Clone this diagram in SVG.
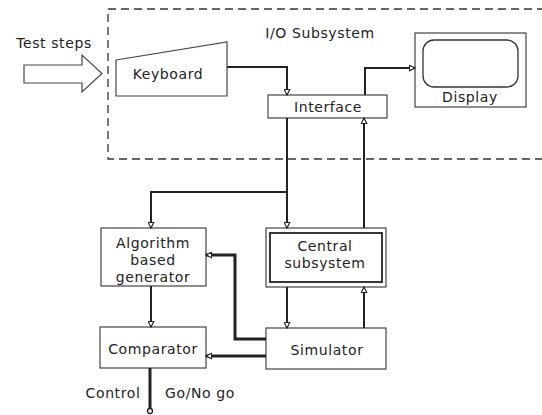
<svg xmlns="http://www.w3.org/2000/svg" width="542" height="415" viewBox="0 0 542 415">
  <style>
    .box { fill: #fff; stroke: #444; stroke-width: 1.2; }
    .txt { font-family: "DejaVu Sans", "Liberation Sans", sans-serif; font-size: 14px; letter-spacing: 0.6px; fill: #222; text-anchor: middle; }
    .wire { fill: none; stroke: #222; stroke-width: 2; }
    .wire-bold { fill: none; stroke: #222; stroke-width: 3; }
    .frame { fill: none; stroke: #333; stroke-width: 1.3; stroke-dasharray: 8 5; }
  </style>
  <defs>
    <marker id="tri" viewBox="0 0 10 10" refX="9" refY="5" markerWidth="7" markerHeight="7" markerUnits="userSpaceOnUse" orient="auto">
      <path d="M1,1 L9,5 L1,9 Z" fill="#fff" stroke="#222" stroke-width="1.6"/>
    </marker>
  </defs>
  <rect width="542" height="415" fill="#fff"/>

  <!-- I/O subsystem frame -->
  <g id="io-subsystem">
    <path class="frame" d="M545,9 H108 V159 H545"/>
    <text class="txt" x="320" y="38">I/O Subsystem</text>
  </g>

  <!-- external input -->
  <g id="test-steps">
    <text class="txt" x="54" y="48">Test steps</text>
    <path d="M24,65 H82 V55 L102,73.5 L82,92 V83 H24 Z" fill="#fff" stroke="#444" stroke-width="1.2"/>
  </g>

  <g id="keyboard">
    <path class="box" d="M116,60 L227,42 V96 H116 Z"/>
    <text class="txt" x="168" y="79">Keyboard</text>
  </g>

  <g id="interface">
    <rect class="box" x="268" y="95" width="119" height="23"/>
    <text class="txt" x="328" y="112">Interface</text>
  </g>

  <g id="display">
    <rect class="box" x="415" y="33" width="111" height="74"/>
    <rect x="423" y="40" width="95" height="47" rx="11" fill="none" stroke="#333" stroke-width="1.3"/>
    <text class="txt" x="470" y="102">Display</text>
  </g>

  <g id="algorithm-generator">
    <rect class="box" x="101" y="228" width="105" height="58"/>
    <text class="txt" x="153" y="248">Algorithm</text>
    <text class="txt" x="153" y="265">based</text>
    <text class="txt" x="153" y="282">generator</text>
  </g>

  <g id="central-subsystem">
    <rect class="box" x="266" y="228" width="120" height="59"/>
    <rect x="270" y="233" width="112" height="49" fill="none" stroke="#222" stroke-width="1.8"/>
    <text class="txt" x="325" y="251">Central</text>
    <text class="txt" x="325" y="268">subsystem</text>
  </g>

  <g id="simulator">
    <rect class="box" x="266" y="328" width="120" height="41"/>
    <text class="txt" x="327" y="355">Simulator</text>
  </g>

  <g id="comparator">
    <rect class="box" x="100" y="327" width="106" height="41"/>
    <text class="txt" x="153" y="354">Comparator</text>
  </g>

  <g id="output">
    <text class="txt" x="113" y="398">Control</text>
    <text class="txt" x="200" y="398">Go/No go</text>
    <circle cx="150" cy="411" r="2.5" fill="#fff" stroke="#222" stroke-width="1.3"/>
  </g>

  <!-- connectors -->
  <g id="connectors">
    <path class="wire" d="M227,67 H287 V95" marker-end="url(#tri)"/>
    <path class="wire" d="M365,95 V68 H415" marker-end="url(#tri)"/>
    <path class="wire" d="M287,118 V228" marker-end="url(#tri)"/>
    <path class="wire" d="M287,192 H151 V228" marker-end="url(#tri)"/>
    <path class="wire" d="M364,228 V118" marker-end="url(#tri)"/>
    <path class="wire" d="M287,287 V328" marker-end="url(#tri)"/>
    <path class="wire" d="M364,328 V287" marker-end="url(#tri)"/>
    <path class="wire-bold" d="M266,339 H235 V255 H206" marker-end="url(#tri)"/>
    <path class="wire-bold" d="M266,356 H206" marker-end="url(#tri)"/>
    <path class="wire" d="M151,286 V327" marker-end="url(#tri)"/>
    <path class="wire-bold" d="M150,368 V408.5"/>
  </g>
</svg>
